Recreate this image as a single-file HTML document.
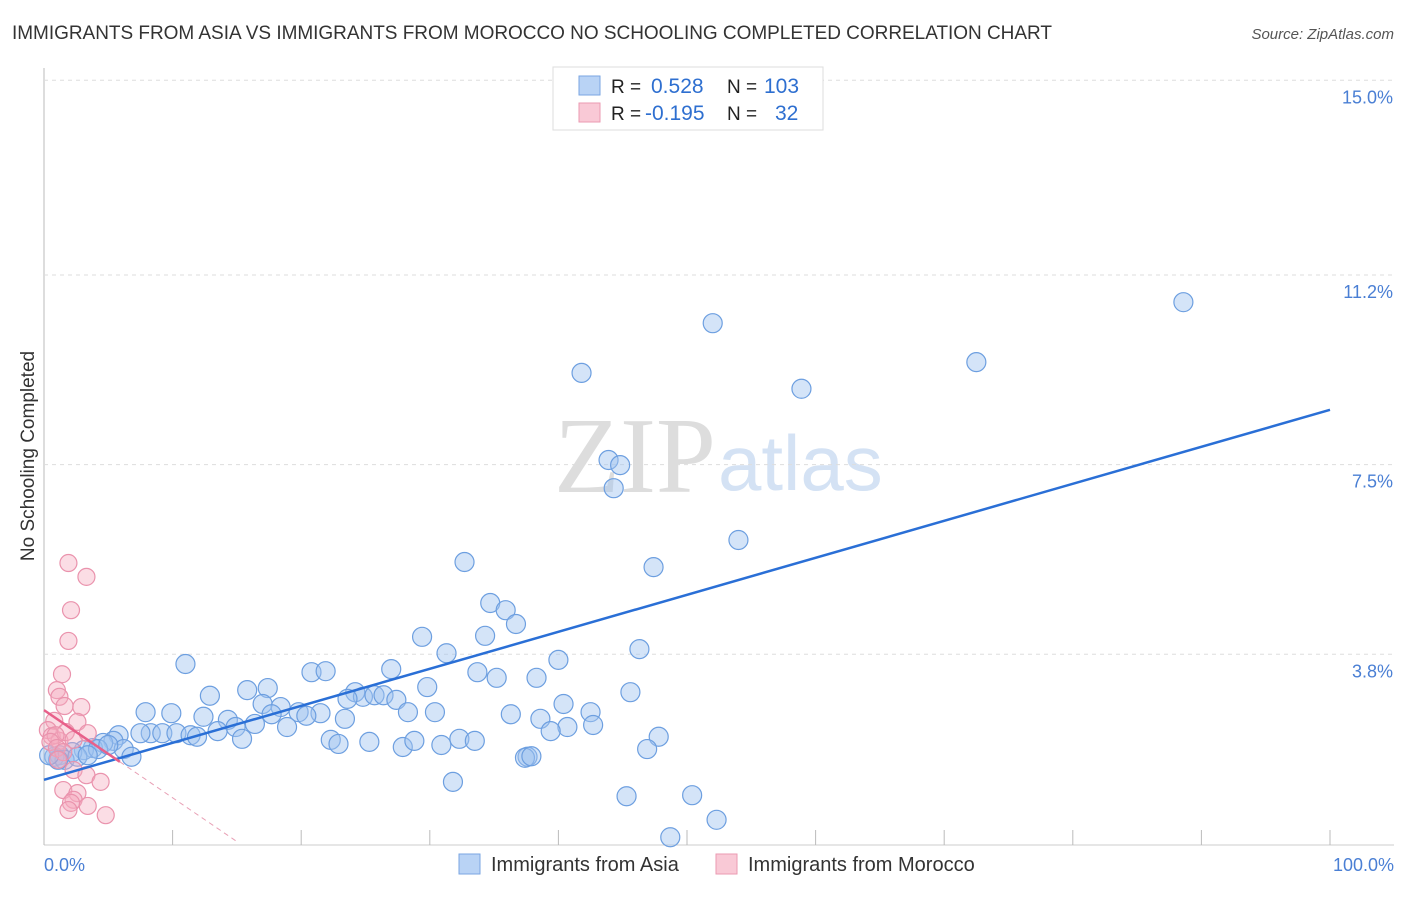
<!DOCTYPE html>
<html><head><meta charset="utf-8"><style>
body{margin:0;background:#fff;font-family:"Liberation Sans",sans-serif;}
svg text{font-family:"Liberation Sans",sans-serif;}
</style></head><body>
<svg id="c" width="1406" height="892">
<text x="12" y="39" font-size="19" fill="#333" textLength="1040">IMMIGRANTS FROM ASIA VS IMMIGRANTS FROM MOROCCO NO SCHOOLING COMPLETED CORRELATION CHART</text>
<text x="1394" y="39" font-size="15" fill="#555" font-style="italic" text-anchor="end">Source: ZipAtlas.com</text>
<text x="34" y="456" font-size="19" fill="#333" text-anchor="middle" transform="rotate(-90 34 456)">No Schooling Completed</text>
<text x="554" y="492" font-size="108" fill="#ddd" style="font-family:'Liberation Serif',serif">ZIP</text>
<text x="718" y="490" font-size="78" fill="#d4e2f4">atlas</text>
<g id="grid"></g><g id="pts"></g><g id="lines"></g>
<g>
<rect x="553" y="67" width="270" height="63" fill="#fff" stroke="#ddd"/>
<rect x="579" y="76" width="21" height="19" fill="#b9d3f5" stroke="#7aa6e2"/>
<rect x="579" y="103" width="21" height="19" fill="#f9c9d6" stroke="#eb9ab2"/>
<text x="611" y="93" font-size="19" fill="#222">R =</text><text x="651" y="93" font-size="21" fill="#2e6fd0">0.528</text>
<text x="727" y="93" font-size="19" fill="#222">N =</text><text x="764" y="93" font-size="21" fill="#2e6fd0">103</text>
<text x="611" y="120" font-size="19" fill="#222">R =</text><text x="645" y="120" font-size="21" fill="#2e6fd0">-0.195</text>
<text x="727" y="120" font-size="19" fill="#222">N =</text><text x="775" y="120" font-size="21" fill="#2e6fd0">32</text>
</g>
<g>
<rect x="459" y="854" width="21" height="20" fill="#b9d3f5" stroke="#7aa6e2"/>
<text x="491" y="871" font-size="20" fill="#333">Immigrants from Asia</text>
<rect x="716" y="854" width="21" height="20" fill="#f9c9d6" stroke="#eb9ab2"/>
<text x="748" y="871" font-size="20" fill="#333">Immigrants from Morocco</text>
</g>
<text x="44" y="871" font-size="18" fill="#4a7fd4">0.0%</text>
<text x="1394" y="871" font-size="18" fill="#4a7fd4" text-anchor="end">100.0%</text>
</svg>
<script>
const yTicks=[15.0,11.2,7.5,3.8];
const yTickLabels=["15.0%","11.2%","7.5%","3.8%"];
const xTicks=[0,10,20,30,40,50,60,70,80,90,100];
const asiaX=[88.6,52.0,41.8,72.5,58.9,43.9,44.8,44.3,54.0,32.7,47.4,34.7,35.9,36.7,29.4,34.3,31.3,46.3,40.0,11.0,20.8,21.9,27.0,33.7,35.2,38.3,29.8,17.4,15.8,12.9,24.2,24.8,25.7,26.4,23.6,27.4,45.6,17.0,18.4,40.4,42.5,7.9,9.9,12.4,14.3,19.8,21.5,20.4,17.7,28.3,30.4,36.3,23.4,38.6,42.7,40.7,18.9,16.4,14.9,13.5,8.3,9.2,10.3,11.4,11.9,7.5,5.8,5.4,4.6,6.2,6.8,3.8,3.1,2.2,1.2,0.8,1.6,2.6,15.4,22.3,22.9,25.3,27.9,28.8,30.9,32.3,33.5,39.4,47.8,46.9,37.6,37.4,37.9,31.8,45.3,50.4,52.3,48.7,4.2,3.4,5.0,1.1,0.4];
const asiaY=[10.67,10.26,9.29,9.50,8.98,7.59,7.49,7.04,6.03,5.60,5.50,4.80,4.66,4.39,4.14,4.16,3.82,3.90,3.69,3.61,3.45,3.47,3.51,3.45,3.34,3.34,3.16,3.14,3.10,2.99,3.06,2.97,3.00,3.00,2.93,2.91,3.06,2.83,2.77,2.83,2.67,2.67,2.65,2.58,2.52,2.67,2.65,2.60,2.63,2.67,2.67,2.63,2.54,2.54,2.42,2.38,2.38,2.44,2.38,2.30,2.26,2.26,2.26,2.22,2.19,2.26,2.22,2.11,2.07,1.95,1.80,1.97,1.93,1.89,1.83,1.80,1.74,1.80,2.15,2.13,2.05,2.09,1.99,2.11,2.03,2.15,2.11,2.30,2.19,1.95,1.80,1.78,1.81,1.31,1.03,1.05,0.57,0.23,1.95,1.83,2.03,1.74,1.83];
const morX=[1.9,3.3,2.1,1.9,1.4,1.0,1.2,2.9,1.6,2.6,0.8,0.3,0.6,1.2,1.7,0.9,0.5,1.0,2.3,3.4,1.5,2.3,3.3,1.5,2.6,2.3,2.1,3.4,1.9,4.8,4.4,1.1];
const morY=[5.58,5.31,4.66,4.06,3.41,3.10,2.97,2.77,2.79,2.48,2.50,2.32,2.20,2.11,2.28,2.22,2.09,1.97,2.13,2.26,1.89,1.54,1.44,1.15,1.09,0.96,0.90,0.84,0.76,0.66,1.31,1.74];
const asiaTrend=[1.35,8.57];
const morTrend=[2.71,-0.171];
const X=v=>44+v*12.86, Y=v=>849-v*51.25;
const NS="http://www.w3.org/2000/svg";
function mk(t,a,p){const e=document.createElementNS(NS,t);for(const k in a)e.setAttribute(k,a[k]);p.appendChild(e);return e;}
const grid=document.getElementById('grid'),pts=document.getElementById('pts'),lines=document.getElementById('lines'),svg=document.getElementById('c');
mk('line',{x1:44,y1:68,x2:44,y2:845,stroke:'#bbb'},grid);
mk('line',{x1:44,y1:845,x2:1394,y2:845,stroke:'#ccc'},grid);
yTicks.forEach((v,i)=>{
 const l=mk('line',{x1:44,y1:Y(v),x2:1394,y2:Y(v),stroke:'#ddd','stroke-dasharray':'4,4'},grid);
 
 
 const t=mk('text',{x:1393,y:Y(v)+23,'font-size':18,fill:'#4a7fd4','text-anchor':'end'},svg);
 t.textContent=yTickLabels[i];
 
 
});
xTicks.forEach(v=>{
 const l=mk('line',{x1:X(v),y1:830,x2:X(v),y2:845,stroke:'#bbb'},grid);
 
 
});
asiaX.forEach((x,i)=>{
 const c=mk('circle',{cx:X(x),cy:Y(asiaY[i]),r:9.5,fill:'rgba(160,196,240,0.45)',stroke:'#6d9fe0','stroke-width':1.2},pts);
 
 
});
morX.forEach((x,i)=>{
 const c=mk('circle',{cx:X(x),cy:Y(morY[i]),r:8.5,fill:'rgba(245,170,190,0.4)',stroke:'#ea93ad','stroke-width':1.2},pts);
 
 
});
const a=mk('line',{x1:X(0),y1:Y(asiaTrend[0]),x2:X(100),y2:Y(asiaTrend[1]),stroke:'#2a6fd6','stroke-width':2.5},lines);


const pm=mk('line',{x1:X(0),y1:Y(morTrend[0]),x2:X(5.9),y2:Y(morTrend[0]+morTrend[1]*5.9),stroke:'#e8608a','stroke-width':2.5},lines);


const pd=mk('line',{x1:X(5.9),y1:Y(morTrend[0]+morTrend[1]*5.9),x2:X(14.9),y2:Y(morTrend[0]+morTrend[1]*14.9),stroke:'#e8a0b5','stroke-width':1,'stroke-dasharray':'5,4'},lines);


</script>
</body></html>
